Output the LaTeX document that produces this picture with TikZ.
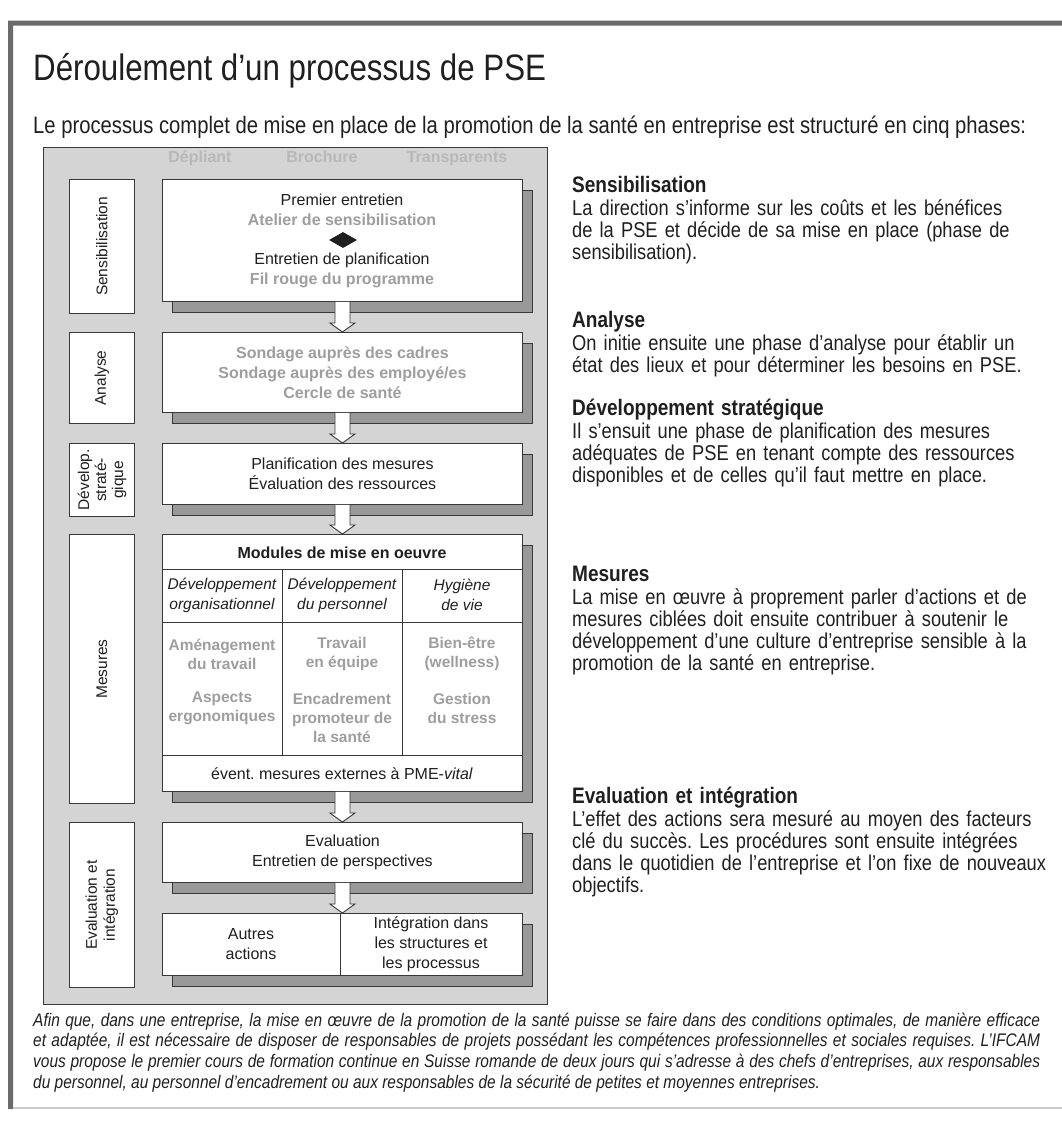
\documentclass[tikz,border=0pt]{standalone}
\usepackage{fontspec}
\setmainfont{Liberation Sans}
\newfontfamily\condfont[FakeStretch=0.85]{Liberation Sans}
\usetikzlibrary{shapes.geometric,shadows,calc}
\definecolor{framegray}{gray}{0.42}
\definecolor{rulegray}{gray}{0.80}
\definecolor{panelgray}{gray}{0.83}
\definecolor{shadegray}{gray}{0.60}
\definecolor{edgegray}{gray}{0.22}
\definecolor{inkgray}{gray}{0.12}
\definecolor{toolgray}{gray}{0.62}
\definecolor{headgray}{gray}{0.72}
% fleche bloc d'une phase a la suivante
\newcommand{\phasearrow}[2]{%
  \draw[arrowbox] ($(#1.south)+(-7.5,0)$) -- ($(#2.north)+(-7.5,-9)$)
    -- ($(#2.north)+(-12.5,-9)$) -- (#2.north) -- ($(#2.north)+(12.5,-9)$)
    -- ($(#2.north)+(7.5,-9)$) -- ($(#1.south)+(7.5,0)$);}
\newcommand{\blurbhead}[1]{\strut\smash{\bfseries\fontsize{22.4}{22}\selectfont #1}}
\begin{document}
\lineskiplimit=-50pt
\frenchspacing
\begin{tikzpicture}[x=1pt, y=-1pt,
  phasebox/.style={draw=edgegray, fill=white, line width=0.9pt, inner sep=0pt, anchor=north west,
    minimum width=360pt, minimum height=#1,
    general shadow={shadow xshift=10pt, shadow yshift=-11pt, fill=shadegray, draw=edgegray, line width=0.9pt}},
  tagbox/.style={draw=edgegray, fill=white, line width=0.9pt, inner sep=0pt, anchor=north west,
    minimum width=65pt, minimum height=#1},
  tagtext/.style={rotate=90, align=center, inner sep=0pt, text=inkgray, font=\fontsize{15.5}{18}\selectfont},
  boxtext/.style={align=center, inner sep=0pt, text=inkgray, font=\fontsize{16}{20}\selectfont},
  tooltext/.style={align=center, inner sep=0pt, text=toolgray, font=\bfseries\fontsize{16}{20}\selectfont},
  celltext/.style={align=center, inner sep=0pt, text=toolgray, font=\bfseries\fontsize{15.5}{19}\selectfont},
  modtext/.style={align=center, inner sep=0pt, text=inkgray, font=\itshape\fontsize{15.5}{20}\selectfont},
  arrowbox/.style={fill=white, draw=edgegray, line width=0.9pt},
  blurb/.style={anchor=north west, inner sep=0pt, text width=500pt, align=left, text=inkgray,
    font=\condfont\fontsize{21.5}{22}\selectfont}]
\useasboundingbox (0,0) rectangle (1062,1130);
\fill[framegray] (8,20.5) rectangle (1062,25.5) (8,20.5) rectangle (13,1109);
\draw[rulegray, line width=2pt] (13,1108) -- (1062,1108);

\node[anchor=base west, inner sep=0pt, text=inkgray, font=\condfont\fontsize{36.8}{40}\selectfont] (titre) at (33,80) {Déroulement d’un processus de PSE};
\node[anchor=base west, inner sep=0pt, text=inkgray, font=\condfont\fontsize{23.8}{28}\selectfont] (intro) at (33,133) {Le processus complet de mise en place de la promotion de la santé en entreprise est structuré en cinq phases:};

% panneau gris
\draw[fill=panelgray, draw=edgegray, line width=0.9pt] (43,147) rectangle (547,1004);
\node[tooltext, text=headgray, anchor=base] (depliant) at (200,162) {Dépliant};
\node[tooltext, text=headgray, anchor=base] (brochure) at (322,162) {Brochure};
\node[tooltext, text=headgray, anchor=base] (transp) at (457,162) {Transparents};

\node[phasebox=122] (sens) at (162,179) {};
\node[phasebox=80] (anal) at (162,332) {};
\node[phasebox=61] (strat) at (162,443) {};
\node[phasebox=257] (mes) at (162,534) {};
\node[phasebox=60] (eval) at (162,822) {};
\node[phasebox=62] (fin) at (162,913) {};

\node[tagbox=134] (lsens) at (69,179) {};
\node[tagbox=91] (lanal) at (69,332) {};
\node[tagbox=73] (lstrat) at (69,443) {};
\node[tagbox=269] (lmes) at (69,534) {};
\node[tagbox=165] (leval) at (69,822) {};
\node[tagtext] (tsens) at (lsens.center) {Sensibilisation};
\node[tagtext] (tanal) at (lanal.center) {Analyse};
\node[tagtext, font=\fontsize{15.5}{17}\selectfont] (tstrat) at (lstrat.center) {Dévelop.\\straté-\\gique};
\node[tagtext] (tmes) at (lmes.center) {Mesures};
\node[tagtext] (teval) at (leval.center) {Evaluation et\\intégration};

\node[boxtext] (entr1) at (342,210) {Premier entretien\\{\bfseries\color{toolgray}Atelier de sensibilisation}};
\node[diamond, fill=inkgray, minimum width=28pt, minimum height=16pt, inner sep=0pt] (losange) at (343,240) {};
\node[boxtext] (entr2) at (342,270) {Entretien de planification\\{\bfseries\color{toolgray}Fil rouge du programme}};
\node[tooltext] (sond) at (anal.center) {Sondage auprès des cadres\\Sondage auprès des employé/es\\Cercle de santé};
\node[boxtext] (planif) at (strat.center) {Planification des mesures\\Évaluation des ressources};

% grille des modules
\draw[edgegray, line width=0.9pt] (162,569) -- (522,569) (162,622) -- (522,622) (162,755) -- (522,755)
  (282,569) -- (282,755) (402,569) -- (402,755);
\node[boxtext, font=\bfseries\fontsize{16}{20}\selectfont] (modules) at (342,553) {Modules de mise en oeuvre};
\node[modtext] (orga) at (222,595) {Développement\\organisationnel};
\node[modtext] (perso) at (342,595) {Développement\\du personnel};
\node[modtext] (hyg) at (462,595) {Hygiène\\de vie};
\node[celltext] (amen) at (222,654) {Aménagement\\du travail};
\node[celltext] (ergo) at (222,708) {Aspects\\ergonomiques};
\node[celltext] (equipe) at (342,654) {Travail\\en équipe};
\node[celltext] (encad) at (342,718) {Encadrement\\promoteur de\\la santé};
\node[celltext] (bien) at (462,654) {Bien-être\\(wellness)};
\node[celltext] (stress) at (462,708) {Gestion\\du stress};
\node[boxtext] (externe) at (342,774) {évent. mesures externes à PME-\textit{vital}};

\node[boxtext] (evalt) at (eval.center) {Evaluation\\Entretien de perspectives};
\draw[edgegray, line width=0.9pt] ($(fin.north west)+(178,0)$) -- ($(fin.south west)+(178,0)$);
\node[boxtext] (autres) at (251,944) {Autres\\actions};
\node[boxtext] (integ) at (431,944) {Intégration dans\\les structures et\\les processus};

\phasearrow{sens}{anal}
\phasearrow{anal}{strat}
\phasearrow{strat}{mes}
\phasearrow{mes}{eval}
\phasearrow{eval}{fin}

% textes de droite
\node[blurb] (bsens) at (572,176.6) {\blurbhead{Sensibilisation}\\
  La direction s’informe sur les coûts et les bénéfices\\de la PSE et décide de sa mise en place (phase de\\sensibilisation).};
\node[blurb] (banal) at (572,311.6) {\blurbhead{Analyse}\\
  On initie ensuite une phase d’analyse pour établir un\\état des lieux et pour déterminer les besoins en PSE.};
\node[blurb] (bstrat) at (572,399.6) {\blurbhead{Développement stratégique}\\
  Il s’ensuit une phase de planification des mesures\\adéquates de PSE en tenant compte des ressources\\disponibles et de celles qu’il faut mettre en place.};
\node[blurb] (bmes) at (572,565.6) {\blurbhead{Mesures}\\
  La mise en œuvre à proprement parler d’actions et de\\mesures ciblées doit ensuite contribuer à soutenir le\\développement d’une culture d’entreprise sensible à la\\promotion de la santé en entreprise.};
\node[blurb] (beval) at (572,787.6) {\blurbhead{Evaluation et intégration}\\
  L’effet des actions sera mesuré au moyen des facteurs\\clé du succès. Les procédures sont ensuite intégrées\\dans le quotidien de l’entreprise et l’on fixe de nouveaux\\objectifs.};

\node[anchor=north west, inner sep=0pt, align=left, text=inkgray, font=\condfont\itshape\fontsize{18.2}{20.7}\selectfont] (pied) at (33,1011.5) {%
  \strut\makebox[1007pt][s]{Afin que, dans une entreprise, la mise en œuvre de la promotion de la santé puisse se faire dans des conditions optimales, de manière efficace}\\
  \makebox[1007pt][s]{et adaptée, il est nécessaire de disposer de responsables de projets possédant les compétences professionnelles et sociales requises. L’IFCAM}\\
  \makebox[1007pt][s]{vous propose le premier cours de formation continue en Suisse romande de deux jours qui s’adresse à des chefs d’entreprises, aux responsables}\\
  du personnel, au personnel d’encadrement ou aux responsables de la sécurité de petites et moyennes entreprises.};
\end{tikzpicture}
\end{document}
